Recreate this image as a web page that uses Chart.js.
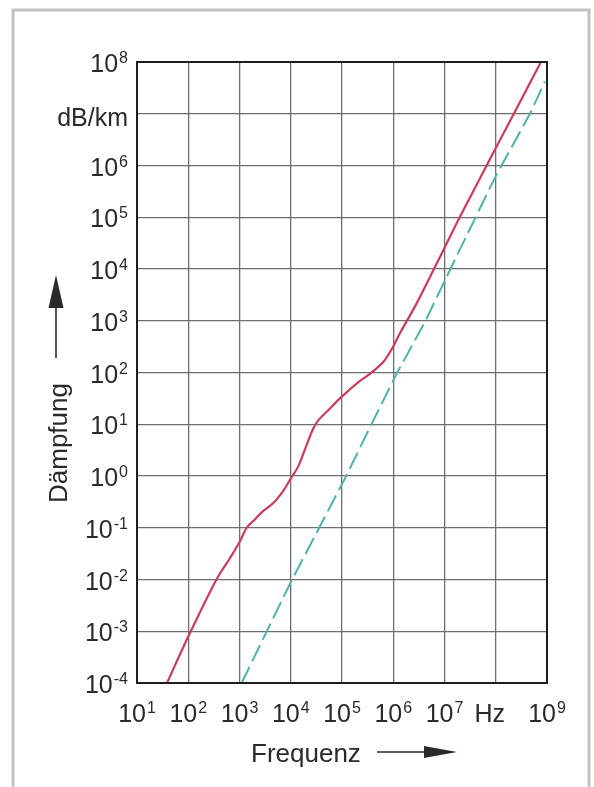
<!DOCTYPE html>
<html>
<head>
<meta charset="utf-8">
<script src="https://cdn.jsdelivr.net/npm/chart.js@4"></script>
<style>
  html, body { margin: 0; padding: 0; background: #fff; }
  canvas { display: block; }
</style>
</head>
<body>
<canvas id="daempfungChart" width="594" height="787"></canvas>
<script>
/******************************************************************
DATA
******************************************************************/

// Frequenz in Hz, Daempfung in dB/km
var redFreq = [38.5, 100, 355, 653, 1020, 1380, 2000, 2880, 4570, 7080, 10000, 14100, 20400,
  27500, 34700, 53700, 95500, 209000, 355000, 646000, 933000, 1.35e6, 2.88e6, 9.55e6,
  2.0e7, 8.9e7, 2.19e8, 7.6e8];
var redDamp = [1e-4, 7.9e-4, 0.01, 0.026, 0.055, 0.1, 0.145, 0.21, 0.30, 0.51, 0.89, 1.55, 3.98,
  8.3, 12.0, 18.6, 33, 65, 95, 162, 282, 575, 2190, 23400,
  1.02e5, 1.74e6, 9.5e6, 1e8];

var cyanFreq = [1100, 1e4, 1.15e5, 3.55e5, 1.15e6, 4.17e6, 2.0e7, 9.8e7, 4.7e8, 9.1e8];
var cyanDamp = [1e-4, 8.9e-3, 0.91, 8.9, 93, 955, 2.4e4, 6.0e5, 1.02e7, 4.2e7];

var xTickValues = [1e1, 1e2, 1e3, 1e4, 1e5, 1e6, 1e7, 1e8, 1e9];
var xTickLabels = ['10^1', '10^2', '10^3', '10^4', '10^5', '10^6', '10^7', 'Hz', '10^9'];

var yTickValues = [1e-4, 1e-3, 1e-2, 1e-1, 1e0, 1e1, 1e2, 1e3, 1e4, 1e5, 1e6, 1e7, 1e8];
var yTickLabels = ['10^-4', '10^-3', '10^-2', '10^-1', '10^0', '10^1', '10^2', '10^3', '10^4',
  '10^5', '10^6', 'dB/km', '10^8'];

var xTitle = 'Frequenz';
var yTitle = 'Dämpfung';

function toPoints(xs, ys) {
  var pts = [];
  for (var i = 0; i < xs.length; i++) {
    pts.push({ x: xs[i], y: ys[i] });
  }
  return pts;
}

/******************************************************************
LABEL HELPERS
******************************************************************/

var FONT = '"Liberation Sans", Arial, sans-serif';

// draws "10^n" as base + superscript, or plain text
function drawPowerLabel(ctx, text, x, baseline, align) {
  var parts = text.split('^');
  ctx.textBaseline = 'alphabetic';
  ctx.textAlign = 'left';
  ctx.font = '25px ' + FONT;
  var baseW = ctx.measureText(parts[0]).width;
  var expW = 0;
  if (parts.length > 1) {
    ctx.font = '16px ' + FONT;
    expW = ctx.measureText(parts[1]).width + 1;
  }
  var total = baseW + expW;
  var start = align === 'right' ? x - total : x - total / 2;
  ctx.font = '25px ' + FONT;
  ctx.fillText(parts[0], start, baseline);
  if (parts.length > 1) {
    ctx.font = '16px ' + FONT;
    ctx.fillText(parts[1], start + baseW + 1, baseline - 9);
  }
}

function arrowHead(ctx, tipX, tipY, dirX, dirY, len, half) {
  var bx = tipX - dirX * len, by = tipY - dirY * len;
  ctx.beginPath();
  ctx.moveTo(tipX, tipY);
  ctx.lineTo(bx - dirY * half, by + dirX * half);
  ctx.lineTo(bx + dirY * half, by - dirX * half);
  ctx.closePath();
  ctx.fill();
}

var decorPlugin = {
  id: 'decor',
  beforeDraw: function (chart) {
    var ctx = chart.ctx;
    ctx.save();
    ctx.fillStyle = '#fff';
    ctx.fillRect(0, 0, chart.width, chart.height);
    // outer page frame
    ctx.strokeStyle = '#c2c2c2';
    ctx.lineWidth = 3;
    ctx.beginPath();
    ctx.moveTo(13, 800);
    ctx.lineTo(13, 10);
    ctx.lineTo(589, 10);
    ctx.lineTo(589, 800);
    ctx.stroke();
    ctx.restore();
  },
  afterDraw: function (chart) {
    var ctx = chart.ctx;
    var area = chart.chartArea;
    var xs = chart.scales.x;
    var ys = chart.scales.y;
    ctx.save();

    // plot frame
    ctx.strokeStyle = '#1e1e1e';
    ctx.lineWidth = 2;
    ctx.strokeRect(area.left, area.top, area.right - area.left, area.bottom - area.top);

    ctx.fillStyle = '#2a2a2a';
    for (var i = 0; i < xTickValues.length; i++) {
      var px = xs.getPixelForValue(xTickValues[i]);
      if (xTickLabels[i].indexOf('^') < 0) px -= 6;
      drawPowerLabel(ctx, xTickLabels[i], px, area.bottom + 39, 'center');
    }
    for (var j = 0; j < yTickValues.length; j++) {
      var py = ys.getPixelForValue(yTickValues[j]);
      var base = yTickLabels[j].indexOf('^') < 0 ? py + 12 : py + 10;
      drawPowerLabel(ctx, yTickLabels[j], area.left - 9, base, 'right');
    }

    // x title + arrow
    ctx.font = '26px ' + FONT;
    ctx.textAlign = 'left';
    ctx.textBaseline = 'alphabetic';
    ctx.fillText(xTitle, 251, 762);
    ctx.strokeStyle = '#2a2a2a';
    ctx.lineWidth = 1.6;
    ctx.beginPath();
    ctx.moveTo(377, 752);
    ctx.lineTo(430, 752);
    ctx.stroke();
    arrowHead(ctx, 457, 752, 1, 0, 33, 6);

    // y title + arrow
    ctx.save();
    ctx.translate(67, 503);
    ctx.rotate(-Math.PI / 2);
    ctx.font = '26px ' + FONT;
    ctx.fillText(yTitle, 0, 0);
    ctx.restore();
    ctx.beginPath();
    ctx.moveTo(56, 358);
    ctx.lineTo(56, 300);
    ctx.stroke();
    arrowHead(ctx, 56, 275, 0, -1, 33, 7.5);

    ctx.restore();
  }
};

/******************************************************************
CHART
******************************************************************/

var ctx = document.getElementById('daempfungChart').getContext('2d');

var chartHandle = new Chart(ctx, {
  type: 'line',
  data: {
    datasets: [{
      label: 'Dämpfung',
      data: toPoints(redFreq, redDamp),
      borderColor: '#cc3a5c',
      borderWidth: 2.2,
      pointRadius: 0,
      tension: 0.3,
      fill: false
    }, {
      label: 'Dämpfung (Grenze)',
      data: toPoints(cyanFreq, cyanDamp),
      borderColor: '#4fb3a9',
      borderWidth: 2,
      borderDash: [18, 6],
      pointRadius: 0,
      fill: false
    }]
  },
  options: {
    responsive: false,
    animation: false,
    devicePixelRatio: 1,
    layout: { padding: { left: 137, right: 47, top: 62, bottom: 104 } },
    plugins: {
      legend: { display: false },
      tooltip: { enabled: false }
    },
    scales: {
      x: {
        type: 'logarithmic',
        min: 1e1,
        max: 1e9,
        afterBuildTicks: function (scale) {
          scale.ticks = xTickValues.map(function (v) { return { value: v }; });
        },
        ticks: { display: false },
        grid: { color: '#6e6e6e', lineWidth: 1.3, drawTicks: false },
        border: { display: false }
      },
      y: {
        type: 'logarithmic',
        min: 1e-4,
        max: 1e8,
        afterBuildTicks: function (scale) {
          scale.ticks = yTickValues.map(function (v) { return { value: v }; });
        },
        ticks: { display: false },
        grid: { color: '#6e6e6e', lineWidth: 1.3, drawTicks: false },
        border: { display: false }
      }
    }
  },
  plugins: [decorPlugin]
});
</script>
</body>
</html>
